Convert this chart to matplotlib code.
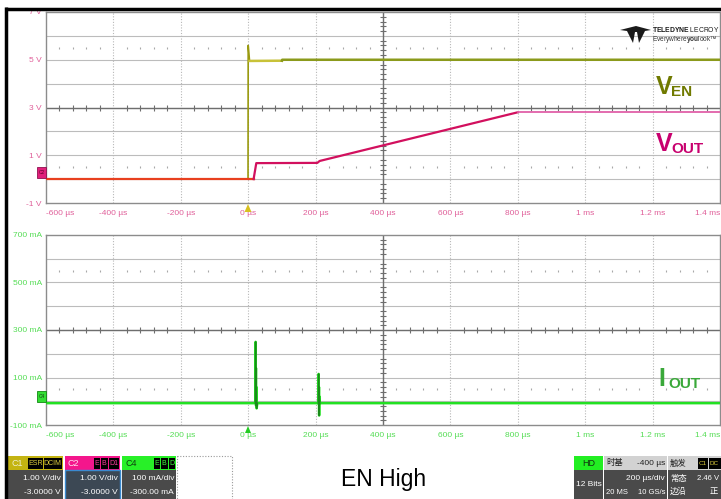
import matplotlib.pyplot as plt
from matplotlib.patches import Rectangle, Polygon

W, H = 721, 499

# time axis (us)
x_ticks = [-600, -400, -200, 0, 200, 400, 600, 800, 1000, 1200, 1400]
x_labels = ['-600 µs', '-400 µs', '-200 µs', '0 µs', '200 µs', '400 µs',
            '600 µs', '800 µs', '1 ms', '1.2 ms', '1.4 ms']

# upper panel: volts
v_ticks = [-1, 1, 3, 5, 7]
v_labels = ['-1 V', '1 V', '3 V', '5 V', '7 V']
t_en = [-600, -0.5, 0, 4, 100, 101, 1400]
v_en = [0.0, 0.0, 5.6, 4.95, 4.96, 5.0, 5.0]
t_out = [-600, 16, 24, 205, 212, 800, 1400]
v_out = [0.0, 0.0, 0.67, 0.68, 0.76, 2.8, 2.8]

# lower panel: mA
i_ticks = [-100, 100, 300, 500, 700]
i_labels = ['-100 mA', '100 mA', '300 mA', '500 mA', '700 mA']
t_i = [-600, 21, 22, 22.5, 23, 23.5, 24, 25, 27, 208, 209, 209.5, 210, 210.5, 211, 213, 1400]
i_ma = [-8, -8, 250, 60, 140, -20, 60, -30, -8, -8, 115, -10, 60, -60, 20, -8, -8]

NARROW = ['Liberation Sans Narrow', 'Liberation Sans', 'DejaVu Sans']
CJK = ['Liberation Sans Narrow', 'Liberation Sans', 'Noto Sans CJK SC', 'DejaVu Sans']

plt.rcParams['mathtext.fontset'] = 'custom'
plt.rcParams['mathtext.rm'] = 'Liberation Sans'
plt.rcParams['mathtext.bf'] = 'Liberation Sans:bold'

fig = plt.figure(figsize=(W / 100, H / 100), dpi=100)
fig.patch.set_facecolor('white')


def pix_axes(left, top, right, bottom):
    return fig.add_axes([left / W, 1 - bottom / H, (right - left) / W, (bottom - top) / H])


def style_panel(ax, ylo, yhi, ystep, yticks, ylabels, col):
    ax.set_xlim(-600, 1400)
    ax.set_ylim(ylo, yhi)
    for s in ax.spines.values():
        s.set_color('#8c8c8c')
        s.set_linewidth(1.0)
    y = ylo + ystep
    while y < yhi - 1e-9:
        ax.axhline(y, color='#bcbcbc', lw=0.8, zorder=1)
        y += ystep
    for xv in x_ticks[1:-1]:
        ax.axvline(xv, color='#b8b8b8', lw=0.8, ls=(0, (1, 1.5)), zorder=1)
    yc = (ylo + yhi) / 2
    ax.axhline(yc, color='#6e6e6e', lw=1.0, zorder=1)
    ax.axvline(400, color='#6e6e6e', lw=1.0, zorder=1)
    # minor ticks on centre lines and dotted rows
    mx = [x for x in range(-560, 1400, 40) if x % 200 != 0]
    ax.plot(mx, [yc] * len(mx), ls='none', marker='|', ms=4, color='#6e6e6e', mew=0.8, zorder=1)
    for yr in (yc - 2.5 * ystep, yc + 2.5 * ystep):
        ax.plot(mx, [yr] * len(mx), ls='none', marker='|', ms=2, color='#a8a8a8', mew=0.8, zorder=1)
    my = [ylo + k * ystep / 5 for k in range(1, 40) if k % 5 != 0]
    ax.plot([400] * len(my), my, ls='none', marker='_', ms=4, color='#6e6e6e', mew=0.8, zorder=1)
    ax.set_xticks(x_ticks)
    ax.set_xticklabels(x_labels, fontsize=6, color=col, family=NARROW)
    ax.set_yticks(yticks)
    ax.set_yticklabels(ylabels, fontsize=6, color=col, family=NARROW)
    ax.tick_params(axis='y', length=0, pad=3)
    ax.tick_params(axis='x', length=0, pad=5)
    tl = ax.get_xticklabels()
    tl[0].set_ha('left')
    tl[-1].set_ha('right')


# upper panel
ax1 = pix_axes(46, 12, 720, 203)
style_panel(ax1, -1, 7, 1, v_ticks, v_labels, '#e0609a')
ax1.plot(t_en[:4], v_en[:4], color='#9a9a10', lw=1.2, zorder=3)
ax1.plot(t_en[3:5], v_en[3:5], color='#c8c238', lw=1.8, zorder=3)
ax1.plot(t_en[4:], v_en[4:], color='#8b9a1b', lw=1.8, zorder=3)
ax1.plot(t_out[:2], v_out[:2], color='#e8401f', lw=1.6, zorder=4)
ax1.plot(t_out[1:6], v_out[1:6], color='#d2105e', lw=1.6, zorder=4)
ax1.plot(t_out[5:], v_out[5:], color='#e060a8', lw=1.3, zorder=4)

# lower panel
ax2 = pix_axes(46, 235, 720, 425)
style_panel(ax2, -100, 700, 100, i_ticks, i_labels, '#55dd55')
ax2.plot(t_i, i_ma, color='#22e022', lw=1.8, zorder=3)
ax2.plot(t_i[1:9], i_ma[1:9], color='#1a8a1a', lw=1.0, zorder=4)
ax2.plot(t_i[9:16], i_ma[9:16], color='#1a8a1a', lw=1.0, zorder=4)

# overlay in pixel coordinates
ov = fig.add_axes([0, 0, 1, 1], facecolor='none')
ov.set_xlim(0, W)
ov.set_ylim(H, 0)
ov.axis('off')

# frame
ov.plot([5, W], [8.5, 8.5], color='black', lw=2.5, solid_capstyle='butt')
ov.plot([5.5, 5.5], [7.3, H], color='black', lw=2.5, solid_capstyle='butt')

# channel markers
ov.add_patch(Rectangle((37, 167), 9, 11, fc='#e0207a', ec='#901050', lw=0.6))
ov.text(41.5, 172.5, 'C2', fontsize=3.5, color='#600030', ha='center', va='center', family=NARROW)
ov.add_patch(Rectangle((37, 391), 9, 11, fc='#33dd33', ec='#118811', lw=0.6))
ov.text(41.5, 396.5, 'C4', fontsize=3.5, color='#104010', ha='center', va='center', family=NARROW)
ov.add_patch(Polygon([[244.5, 212], [251.5, 212], [248, 204]], fc='#d8c020', ec='none'))
ov.add_patch(Polygon([[245, 433], [251, 433], [248, 426]], fc='#22cc22', ec='none'))

# trace names
ov.text(656, 94, 'V', fontsize=18, fontweight='bold', color='#707a00', family='Liberation Sans')
ov.text(671, 96, 'EN', fontsize=11, fontweight='bold', color='#707a00', family='Liberation Sans')
ov.text(656, 151, 'V', fontsize=18, fontweight='bold', color='#c8006e', family='Liberation Sans')
ov.text(671, 153, 'OUT', fontsize=11, fontweight='bold', color='#c8006e', family='Liberation Sans')
ov.text(658, 386, 'I', fontsize=18, fontweight='bold', color='#3aa83a', family='Liberation Sans')
ov.text(668, 388, 'OUT', fontsize=11, fontweight='bold', color='#3aa83a', family='Liberation Sans')

# logo
ov.add_patch(Polygon([[620, 30], [636, 26], [651, 30], [645, 31], [639, 43], [637, 32],
                      [635, 32], [633, 43], [627, 31]], fc='#1a1a1a', ec='none'))
ov.text(652, 32, r'$\mathbf{TELEDYNE}$ LECROY', fontsize=4.9, color='#1a1a1a', family='Liberation Sans')
ov.text(652, 41, r'Everywhere$\mathbf{you}$look™', fontsize=4.7, color='#333333', family='Liberation Sans')

# caption
ov.text(384, 486, 'EN High', fontsize=16.5, color='black', ha='center', family='Liberation Sans')


def chan_box(x0, x1, head_col, name, name_col, tags, tag_col, line1, line2, body_col, edge=None):
    ov.add_patch(Rectangle((x0, 456), x1 - x0, 14, fc=head_col, ec='none'))
    ov.add_patch(Rectangle((x0, 470), x1 - x0, 30, fc=body_col,
                           ec=edge if edge else 'none', lw=1.0))
    ov.text(x0 + 3, 463.5, name, fontsize=6.5, color=name_col, va='center', family=NARROW)
    xr = x1 - 1
    for tg in reversed(tags):
        w = 4.0 * len(tg) + 2.5
        ov.add_patch(Rectangle((xr - w, 458), w, 10.5, fc='black', ec='none'))
        ov.text(xr - w / 2, 463.5, tg, fontsize=5, color=tag_col, ha='center', va='center', family=NARROW)
        xr -= w + 1
    ov.text(x1 - 2, 479, line1, fontsize=6, color='white', ha='right', va='center', family=NARROW)
    ov.text(x1 - 2, 492, line2, fontsize=6, color='white', ha='right', va='center', family=NARROW)


chan_box(8, 63, '#c4b412', 'C1', '#f0f0d0', ['ESR', 'DCIM'], '#e0d040', '1.00 V/div', '-3.0000 V', '#4a4a4a')
chan_box(65, 120, '#f4168c', 'C2', '#ffe0f0', ['E', 'B', 'D1'], '#ff40a0', '1.00 V/div', '-3.0000 V',
         '#3c4854', '#3a8ad0')
chan_box(122, 176, '#28f028', 'C4', '#104010', ['E', 'B', 'D'], '#40ff40', '100 mA/div', '-300.00 mA', '#4a4a4a')
ov.add_patch(Rectangle((177, 456), 55, 44, fc='none', ec='#9a9a9a', lw=0.8, ls=(0, (1, 1.5))))

# acquisition / timebase / trigger
ov.add_patch(Rectangle((574, 456), 29, 14, fc='#22ee22', ec='none'))
ov.add_patch(Rectangle((574, 470), 29, 30, fc='#4a4a4a', ec='none'))
ov.text(588.5, 463.5, 'HD', fontsize=6.5, color='#103010', ha='center', va='center', family=NARROW)
ov.text(588.5, 484, '12 Bits', fontsize=6, color='white', ha='center', va='center', family=NARROW)

ov.add_patch(Rectangle((604, 456), 63, 14, fc='#d2d2d2', ec='none'))
ov.add_patch(Rectangle((604, 470), 63, 30, fc='#4a4a4a', ec='none'))
ov.text(606, 463.5, '时基', fontsize=6, color='#222222', va='center', family=CJK)
ov.text(665, 463.5, '-400 µs', fontsize=6, color='#222222', ha='right', va='center', family=CJK)
ov.text(665, 479, '200 µs/div', fontsize=6, color='white', ha='right', va='center', family=CJK)
ov.text(606, 492, '20 MS', fontsize=5.5, color='white', va='center', family=CJK)
ov.text(665, 492, '10 GS/s', fontsize=5.5, color='white', ha='right', va='center', family=CJK)

ov.add_patch(Rectangle((668, 456), 53, 14, fc='#d2d2d2', ec='none'))
ov.add_patch(Rectangle((668, 470), 53, 30, fc='#4a4a4a', ec='none'))
ov.text(670, 463.5, '触发', fontsize=6, color='#222222', va='center', family=CJK)
ov.add_patch(Rectangle((698, 458), 10, 10.5, fc='black', ec='none'))
ov.text(703, 463.5, 'C1', fontsize=4.5, color='#e0d040', ha='center', va='center', family=NARROW)
ov.add_patch(Rectangle((709, 458), 12, 10.5, fc='black', ec='none'))
ov.text(710, 463.5, 'DC', fontsize=4.5, color='#e0d040', va='center', family=NARROW)
ov.text(670, 479, '常态', fontsize=6, color='white', va='center', family=CJK)
ov.text(670, 492, '边沿', fontsize=6, color='white', va='center', family=CJK)
ov.text(719, 479, '2.46 V', fontsize=5.5, color='white', ha='right', va='center', family=CJK)
ov.text(718, 492, '正', fontsize=6, color='white', ha='right', va='center', family=CJK)

fig.savefig('out.png', dpi=100, facecolor='white')
